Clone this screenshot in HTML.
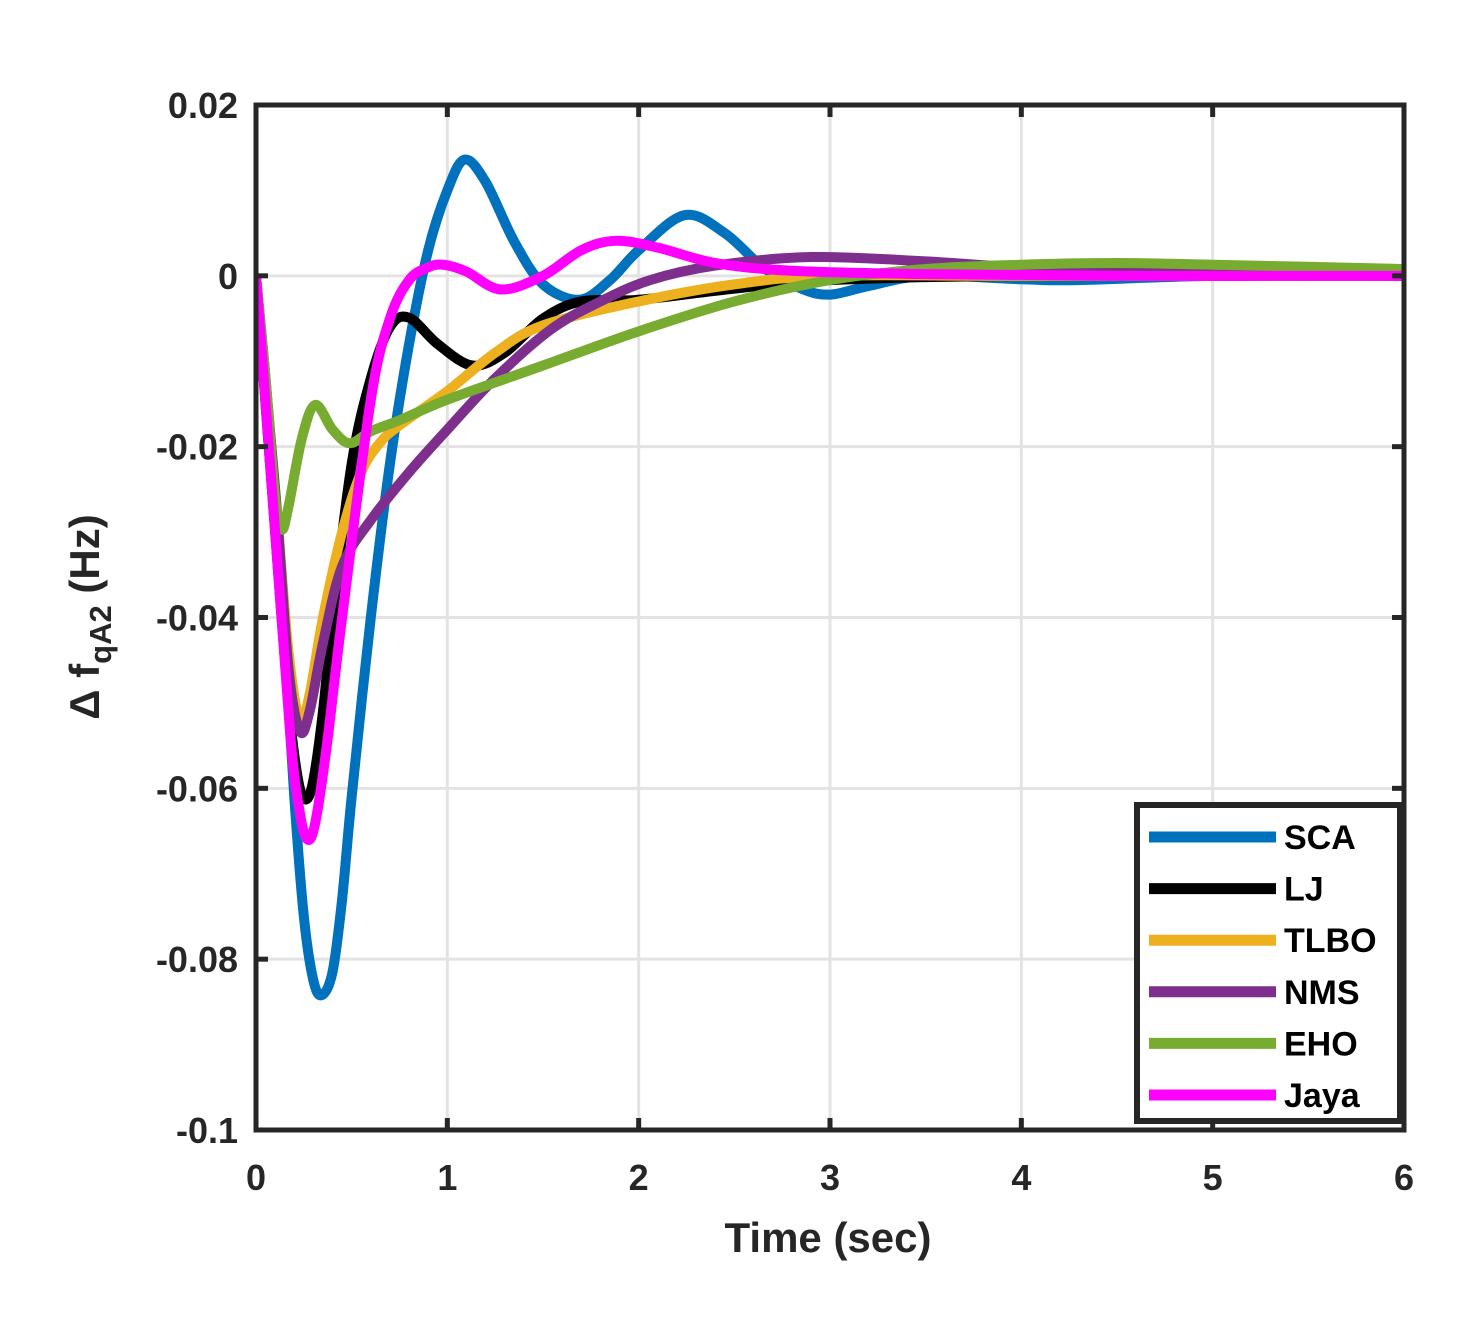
<!DOCTYPE html>
<html><head><meta charset="utf-8"><style>
html,body{margin:0;padding:0;background:#fff;}
svg{display:block;font-family:"Liberation Sans",Arial,sans-serif;font-weight:bold;}
</style></head><body>
<svg id="chart" width="1477" height="1317" viewBox="0 0 1477 1317" xmlns="http://www.w3.org/2000/svg">
<rect width="1477" height="1317" fill="#fff"/>
<g id="grid"></g>
<g id="series" clip-path="url(#clip)"></g>
<defs><clipPath id="clip"><rect x="256" y="105" width="1148" height="1025"/></clipPath></defs>
<rect x="256" y="105" width="1148" height="1025" fill="none" stroke="#262626" stroke-width="5"/>
<g id="ticks"></g>
<text x="828" y="1252" text-anchor="middle" font-size="42" fill="#262626">Time (sec)</text>
<text transform="translate(99,617) rotate(-90)" text-anchor="middle" font-size="42" fill="#262626">Δ f<tspan font-size="31" dy="12">qA2</tspan><tspan dy="-12"> (Hz)</tspan></text>
<g id="legend"></g>
</svg>
<script>
const xTicks=[0,1,2,3,4,5,6];
const yTicks=[0.02,0,-0.02,-0.04,-0.06,-0.08,-0.1];
const yTickLabels=["0.02","0","-0.02","-0.04","-0.06","-0.08","-0.1"];
const seriesNames=["SCA","LJ","TLBO","NMS","EHO","Jaya"];
const seriesColors=["#0072bd","#000000","#edb120","#7e2f8e","#77ac30","#ff00ff"];
const scaT=[0,0.05,0.1,0.15,0.2,0.25,0.3,0.345,0.4,0.45,0.5,0.6,0.7,0.8,0.9,1.0,1.09,1.2,1.35,1.5,1.69,1.85,2.0,2.24,2.45,2.65,2.85,3.0,3.2,3.5,4.0,4.3,5,6];
const scaV=[0,-0.012,-0.026,-0.043,-0.061,-0.075,-0.0825,-0.0842,-0.0815,-0.073,-0.061,-0.040,-0.022,-0.008,0.003,0.010,0.0136,0.011,0.004,-0.001,-0.0028,-0.0005,0.003,0.0071,0.005,0.001,-0.0015,-0.0022,-0.0012,0,-0.0004,-0.0005,0,0];
const ljT=[0,0.1,0.17,0.22,0.26,0.3,0.35,0.4,0.5,0.6,0.7,0.8,0.95,1.13,1.3,1.5,1.7,2.0,2.5,3,4,6];
const ljV=[0,-0.03,-0.05,-0.059,-0.0613,-0.059,-0.051,-0.04,-0.022,-0.012,-0.006,-0.0049,-0.008,-0.0105,-0.009,-0.005,-0.003,-0.0028,-0.0015,-0.0005,0,0];
const tlboT=[0,0.1,0.17,0.23,0.28,0.35,0.45,0.55,0.65,0.75,1.0,1.25,1.5,2.0,2.5,3,4,6];
const tlboV=[0,-0.025,-0.044,-0.052,-0.049,-0.04,-0.03,-0.023,-0.0195,-0.0175,-0.0135,-0.009,-0.0058,-0.003,-0.001,0,0,0];
const nmsT=[0,0.1,0.17,0.23,0.28,0.35,0.45,0.6,0.8,1.0,1.25,1.54,1.8,2.06,2.4,2.9,3.5,4,5,6];
const nmsV=[0,-0.025,-0.046,-0.0533,-0.051,-0.043,-0.034,-0.0286,-0.023,-0.018,-0.012,-0.0063,-0.003,-0.0005,0.0012,0.0022,0.0017,0.001,0.0004,0];
const ehoT=[0,0.05,0.1,0.135,0.17,0.24,0.31,0.4,0.49,0.6,0.75,1.0,1.5,2.0,2.5,3.0,3.5,4,4.5,5,6];
const ehoV=[0,-0.012,-0.026,-0.0297,-0.027,-0.019,-0.0151,-0.018,-0.0196,-0.0182,-0.0169,-0.0145,-0.0105,-0.0065,-0.003,-0.0005,0.0008,0.0013,0.0015,0.0013,0.0008];
const jayaT=[0,0.1,0.18,0.23,0.27,0.31,0.37,0.45,0.6,0.7,0.8,0.9,0.98,1.1,1.28,1.5,1.7,1.88,2.1,2.4,2.8,3.5,4.5,6];
const jayaV=[0,-0.03,-0.054,-0.063,-0.066,-0.064,-0.055,-0.04,-0.0145,-0.005,-0.0005,0.001,0.0013,0.0005,-0.0016,0,0.003,0.0041,0.0033,0.0015,0.0006,0.0002,0,0];

const seriesT=[scaT,ljT,tlboT,nmsT,ehoT,jayaT];
const seriesV=[scaV,ljV,tlboV,nmsV,ehoV,jayaV];
const X0=256,X1=1404,Y0=1130,Y1=105;
const sx=t=>X0+(t-0)/(6-0)*(X1-X0);
const sy=v=>Y0-(v-(-0.1))/(0.02-(-0.1))*(Y0-Y1);
const NS="http://www.w3.org/2000/svg";
function mk(tag,attrs,parent){const e=document.createElementNS(NS,tag);for(const k in attrs)e.setAttribute(k,attrs[k]);parent.appendChild(e);return e;}
const grid=document.getElementById('grid'),ticks=document.getElementById('ticks');
xTicks.forEach((t,i)=>{
  const g=mk('line',{x1:sx(t),x2:sx(t),y1:Y1,y2:Y0,stroke:'#e3e3e3','stroke-width':3},grid);
  
  
  mk('line',{x1:sx(t),x2:sx(t),y1:Y0,y2:Y0-12,stroke:'#262626','stroke-width':5},ticks);
  mk('line',{x1:sx(t),x2:sx(t),y1:Y1,y2:Y1+12,stroke:'#262626','stroke-width':5},ticks);
  const l=mk('text',{x:sx(t),y:1190,'text-anchor':'middle','font-size':36,fill:'#262626'},ticks);
  l.textContent=String(t);
  
  
});
yTicks.forEach((v,i)=>{
  const g=mk('line',{x1:X0,x2:X1,y1:sy(v),y2:sy(v),stroke:'#e3e3e3','stroke-width':3},grid);
  
  
  mk('line',{x1:X0,x2:X0+12,y1:sy(v),y2:sy(v),stroke:'#262626','stroke-width':5},ticks);
  mk('line',{x1:X1,x2:X1-12,y1:sy(v),y2:sy(v),stroke:'#262626','stroke-width':5},ticks);
  const l=mk('text',{x:238,y:sy(v)+13,'text-anchor':'end','font-size':36,fill:'#262626'},ticks);
  l.textContent=yTickLabels[i];
  
  
});
function pathD(T,V){
  const p=T.map((t,i)=>[sx(t),sy(V[i])]);
  let d='M'+p[0][0]+','+p[0][1];
  for(let i=0;i<p.length-1;i++){
    const p0=p[Math.max(0,i-1)],p1=p[i],p2=p[i+1],p3=p[Math.min(p.length-1,i+2)];
    const c1=[p1[0]+(p2[0]-p0[0])/6,p1[1]+(p2[1]-p0[1])/6];
    const c2=[p2[0]-(p3[0]-p1[0])/6,p2[1]-(p3[1]-p1[1])/6];
    d+=' C'+c1[0]+','+c1[1]+' '+c2[0]+','+c2[1]+' '+p2[0]+','+p2[1];
  }
  return d;
}
const sg=document.getElementById('series');
seriesNames.forEach((n,i)=>{
  const el=mk('path',{d:pathD(seriesT[i],seriesV[i]),fill:'none',stroke:seriesColors[i],'stroke-width':10,'stroke-linejoin':'round'},sg);
  
  
});
const lg=document.getElementById('legend');
const box=mk('rect',{x:1137,y:805,width:263,height:316,fill:'#fff',stroke:'#262626','stroke-width':6},lg);


seriesNames.forEach((n,i)=>{
  const y=837+i*51.6;
  const ln=mk('line',{x1:1149,x2:1276,y1:y,y2:y,stroke:seriesColors[i],'stroke-width':11},lg);
  
  
  const t=mk('text',{x:1284,y:y+12,'font-size':34,fill:'#000'},lg);
  t.textContent=n;
  
  
});
</script>
</body></html>
